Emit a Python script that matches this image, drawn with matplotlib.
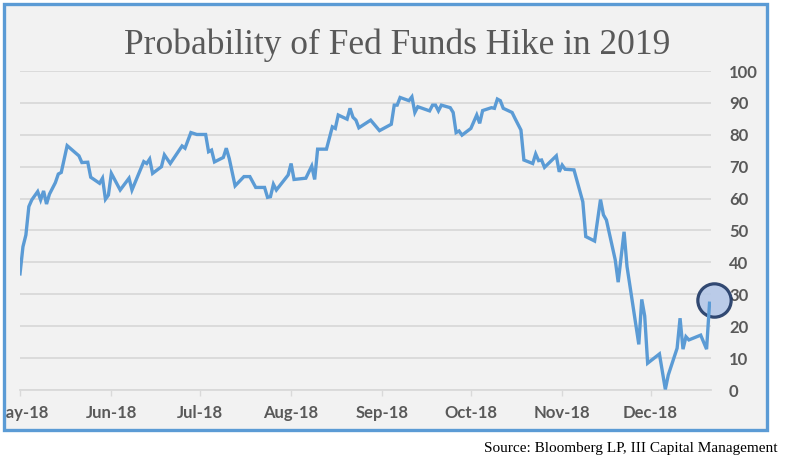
import matplotlib
matplotlib.use("Agg")
import matplotlib.pyplot as plt
from matplotlib.patches import Rectangle
from matplotlib.transforms import offset_copy
import pandas as pd

# ---------------- data ----------------
dates = [
    "2018-05-01", "2018-05-02", "2018-05-03", "2018-05-04", "2018-05-05", "2018-05-07",
    "2018-05-08", "2018-05-09", "2018-05-10", "2018-05-11", "2018-05-13", "2018-05-14",
    "2018-05-15", "2018-05-17", "2018-05-19", "2018-05-21", "2018-05-22", "2018-05-24",
    "2018-05-25", "2018-05-28", "2018-05-29", "2018-05-30", "2018-05-31", "2018-06-01",
    "2018-06-04", "2018-06-07", "2018-06-08", "2018-06-12", "2018-06-13", "2018-06-14",
    "2018-06-15", "2018-06-18", "2018-06-19", "2018-06-21", "2018-06-25", "2018-06-26",
    "2018-06-28", "2018-06-30", "2018-07-03", "2018-07-04", "2018-07-05", "2018-07-06",
    "2018-07-09", "2018-07-10", "2018-07-11", "2018-07-13", "2018-07-16", "2018-07-18",
    "2018-07-20", "2018-07-23", "2018-07-24", "2018-07-25", "2018-07-26", "2018-07-27",
    "2018-07-31", "2018-08-01", "2018-08-02", "2018-08-06", "2018-08-08", "2018-08-09",
    "2018-08-10", "2018-08-13", "2018-08-15", "2018-08-16", "2018-08-17", "2018-08-20",
    "2018-08-21", "2018-08-22", "2018-08-23", "2018-08-24", "2018-08-28", "2018-08-31",
    "2018-09-04", "2018-09-05", "2018-09-06", "2018-09-07", "2018-09-10", "2018-09-11",
    "2018-09-12", "2018-09-13", "2018-09-17", "2018-09-18", "2018-09-19", "2018-09-20",
    "2018-09-21", "2018-09-24", "2018-09-25", "2018-09-26", "2018-09-27", "2018-09-28",
    "2018-10-01", "2018-10-03", "2018-10-04", "2018-10-05", "2018-10-08", "2018-10-09",
    "2018-10-10", "2018-10-11", "2018-10-12", "2018-10-15", "2018-10-16", "2018-10-18",
    "2018-10-19", "2018-10-22", "2018-10-23", "2018-10-24", "2018-10-25", "2018-10-26",
    "2018-10-30", "2018-10-31", "2018-11-01", "2018-11-02", "2018-11-05", "2018-11-08",
    "2018-11-09", "2018-11-12", "2018-11-14", "2018-11-15", "2018-11-16", "2018-11-19",
    "2018-11-20", "2018-11-22", "2018-11-23", "2018-11-27", "2018-11-28", "2018-11-29",
    "2018-11-30", "2018-12-04", "2018-12-06", "2018-12-07", "2018-12-10", "2018-12-11",
    "2018-12-12", "2018-12-13", "2018-12-14", "2018-12-18", "2018-12-20", "2018-12-21",
]
probability = [
    36.4, 44.9, 48.6, 57.5, 59.6, 62.2,
    59.6, 62.4, 58.3, 61.4, 65.0, 67.7,
    68.2, 76.6, 75.0, 73.4, 71.3, 71.4,
    66.7, 64.8, 66.4, 59.8, 61.1, 67.9,
    62.7, 66.4, 62.7, 71.6, 71.0, 72.4,
    67.9, 70.0, 73.7, 71.0, 76.5, 75.8,
    80.7, 80.1, 80.1, 74.7, 75.2, 71.5,
    72.9, 75.8, 72.6, 64.0, 66.9, 66.9,
    63.5, 63.5, 60.4, 60.6, 64.5, 62.7,
    67.4, 71.0, 66.0, 66.4, 70.2, 66.0,
    75.5, 75.5, 82.5, 82.0, 86.2, 84.9,
    88.3, 85.5, 84.6, 82.2, 84.6, 81.3,
    83.3, 89.3, 89.3, 91.7, 90.7, 91.9,
    87.0, 88.8, 87.5, 89.3, 89.3, 87.5,
    89.3, 88.5, 87.0, 80.7, 81.2, 79.9,
    82.0, 86.2, 83.6, 87.6, 88.5, 88.3,
    91.2, 90.7, 88.3, 87.0, 85.1, 81.5,
    72.1, 71.0, 74.0, 71.9, 72.1, 69.8,
    73.4, 68.4, 70.5, 69.2, 69.0, 59.0,
    48.1, 46.7, 59.7, 54.9, 53.3, 40.8,
    33.8, 49.6, 38.7, 14.3, 28.4, 23.2,
    8.4, 11.3, 0.2, 4.7, 13.1, 22.5,
    12.8, 16.7, 15.7, 17.2, 12.8, 27.2,
]
tick_dates = ["2018-05-01", "2018-06-01", "2018-07-01", "2018-08-01",
              "2018-09-01", "2018-10-01", "2018-11-01", "2018-12-01"]
tick_labels = ["May-18", "Jun-18", "Jul-18", "Aug-18", "Sep-18", "Oct-18", "Nov-18", "Dec-18"]
y_ticks = [0, 10, 20, 30, 40, 50, 60, 70, 80, 90, 100]

title = "Probability of Fed Funds Hike in 2019"
source = "Source: Bloomberg LP, III Capital Management"

# ---------------- figure ----------------
W, H = 786, 465
fig = plt.figure(figsize=(W / 100, H / 100), dpi=100)
fig.patch.set_facecolor("white")

def fx(px):
    return px / W

def fy(py):
    return 1 - py / H

# chart-area background
fig.patches.append(Rectangle((fx(4), fy(430)), fx(767) - fx(4), fy(4) - fy(430),
                             transform=fig.transFigure, facecolor="#f2f2f2",
                             edgecolor="none", zorder=-5))

ax = fig.add_axes([fx(20), fy(390), fx(711) - fx(20), fy(71) - fy(390)])
ax.set_facecolor("none")

x = pd.to_datetime(dates)
ax.plot(x, probability, color="#5b9bd5", lw=2.4, solid_joinstyle="miter", zorder=6)

# highlight circle at the latest reading
circ_tr = offset_copy(ax.transData, fig=fig, x=4, y=3, units="dots")
ax.plot([x[-1]], [probability[-1]], marker="o", ms=24, mfc="#b4c7e7", mec="#1f3864",
        mew=2.3, alpha=0.9, transform=circ_tr, clip_on=False, zorder=5)

ax.set_ylim(0, 100)
ax.set_xlim(pd.Timestamp("2018-05-01"), pd.Timestamp("2018-12-21 12:00"))

ax.set_yticks(y_ticks)
ax.yaxis.tick_right()
ax.tick_params(axis="y", length=0, pad=13, labelsize=12, labelcolor="#595959")
for lab in ax.get_yticklabels():
    lab.set_horizontalalignment("left")
    lab.set_fontweight("bold")
    lab.set_fontfamily("Lato")

ax.set_xticks(pd.to_datetime(tick_dates))
ax.set_xticklabels(tick_labels)
ax.tick_params(axis="x", length=4, width=1, color="#d9d9d9", pad=7,
               labelsize=12, labelcolor="#595959")
for lab in ax.get_xticklabels():
    lab.set_fontweight("bold")
    lab.set_fontfamily("Lato")

ax.grid(axis="y", color="#d9d9d9", lw=1.3)
ax.set_axisbelow(True)
for s in ["top", "right", "left"]:
    ax.spines[s].set_visible(False)
ax.spines["bottom"].set_color("#d9d9d9")
ax.spines["bottom"].set_linewidth(1.3)

# title and source
fig.text(fx(397), fy(45), title, ha="center", va="center", fontsize=25.5,
         family="Liberation Serif", color="#595959")
fig.text(fx(777), fy(448), source, ha="right", va="center", fontsize=11,
         family="Liberation Serif", color="black")

# white strip to hide text outside the border on the left, then the border
fig.patches.append(Rectangle((0, fy(430)), fx(4), fy(4) - fy(430), transform=fig.transFigure,
                             facecolor="white", edgecolor="none", zorder=8))
fig.patches.append(Rectangle((fx(4), fy(430)), fx(767) - fx(4), fy(4) - fy(430),
                             transform=fig.transFigure, facecolor="none",
                             edgecolor="#5b9bd5", lw=2.4, zorder=9))

fig.savefig("out.png", dpi=100)
